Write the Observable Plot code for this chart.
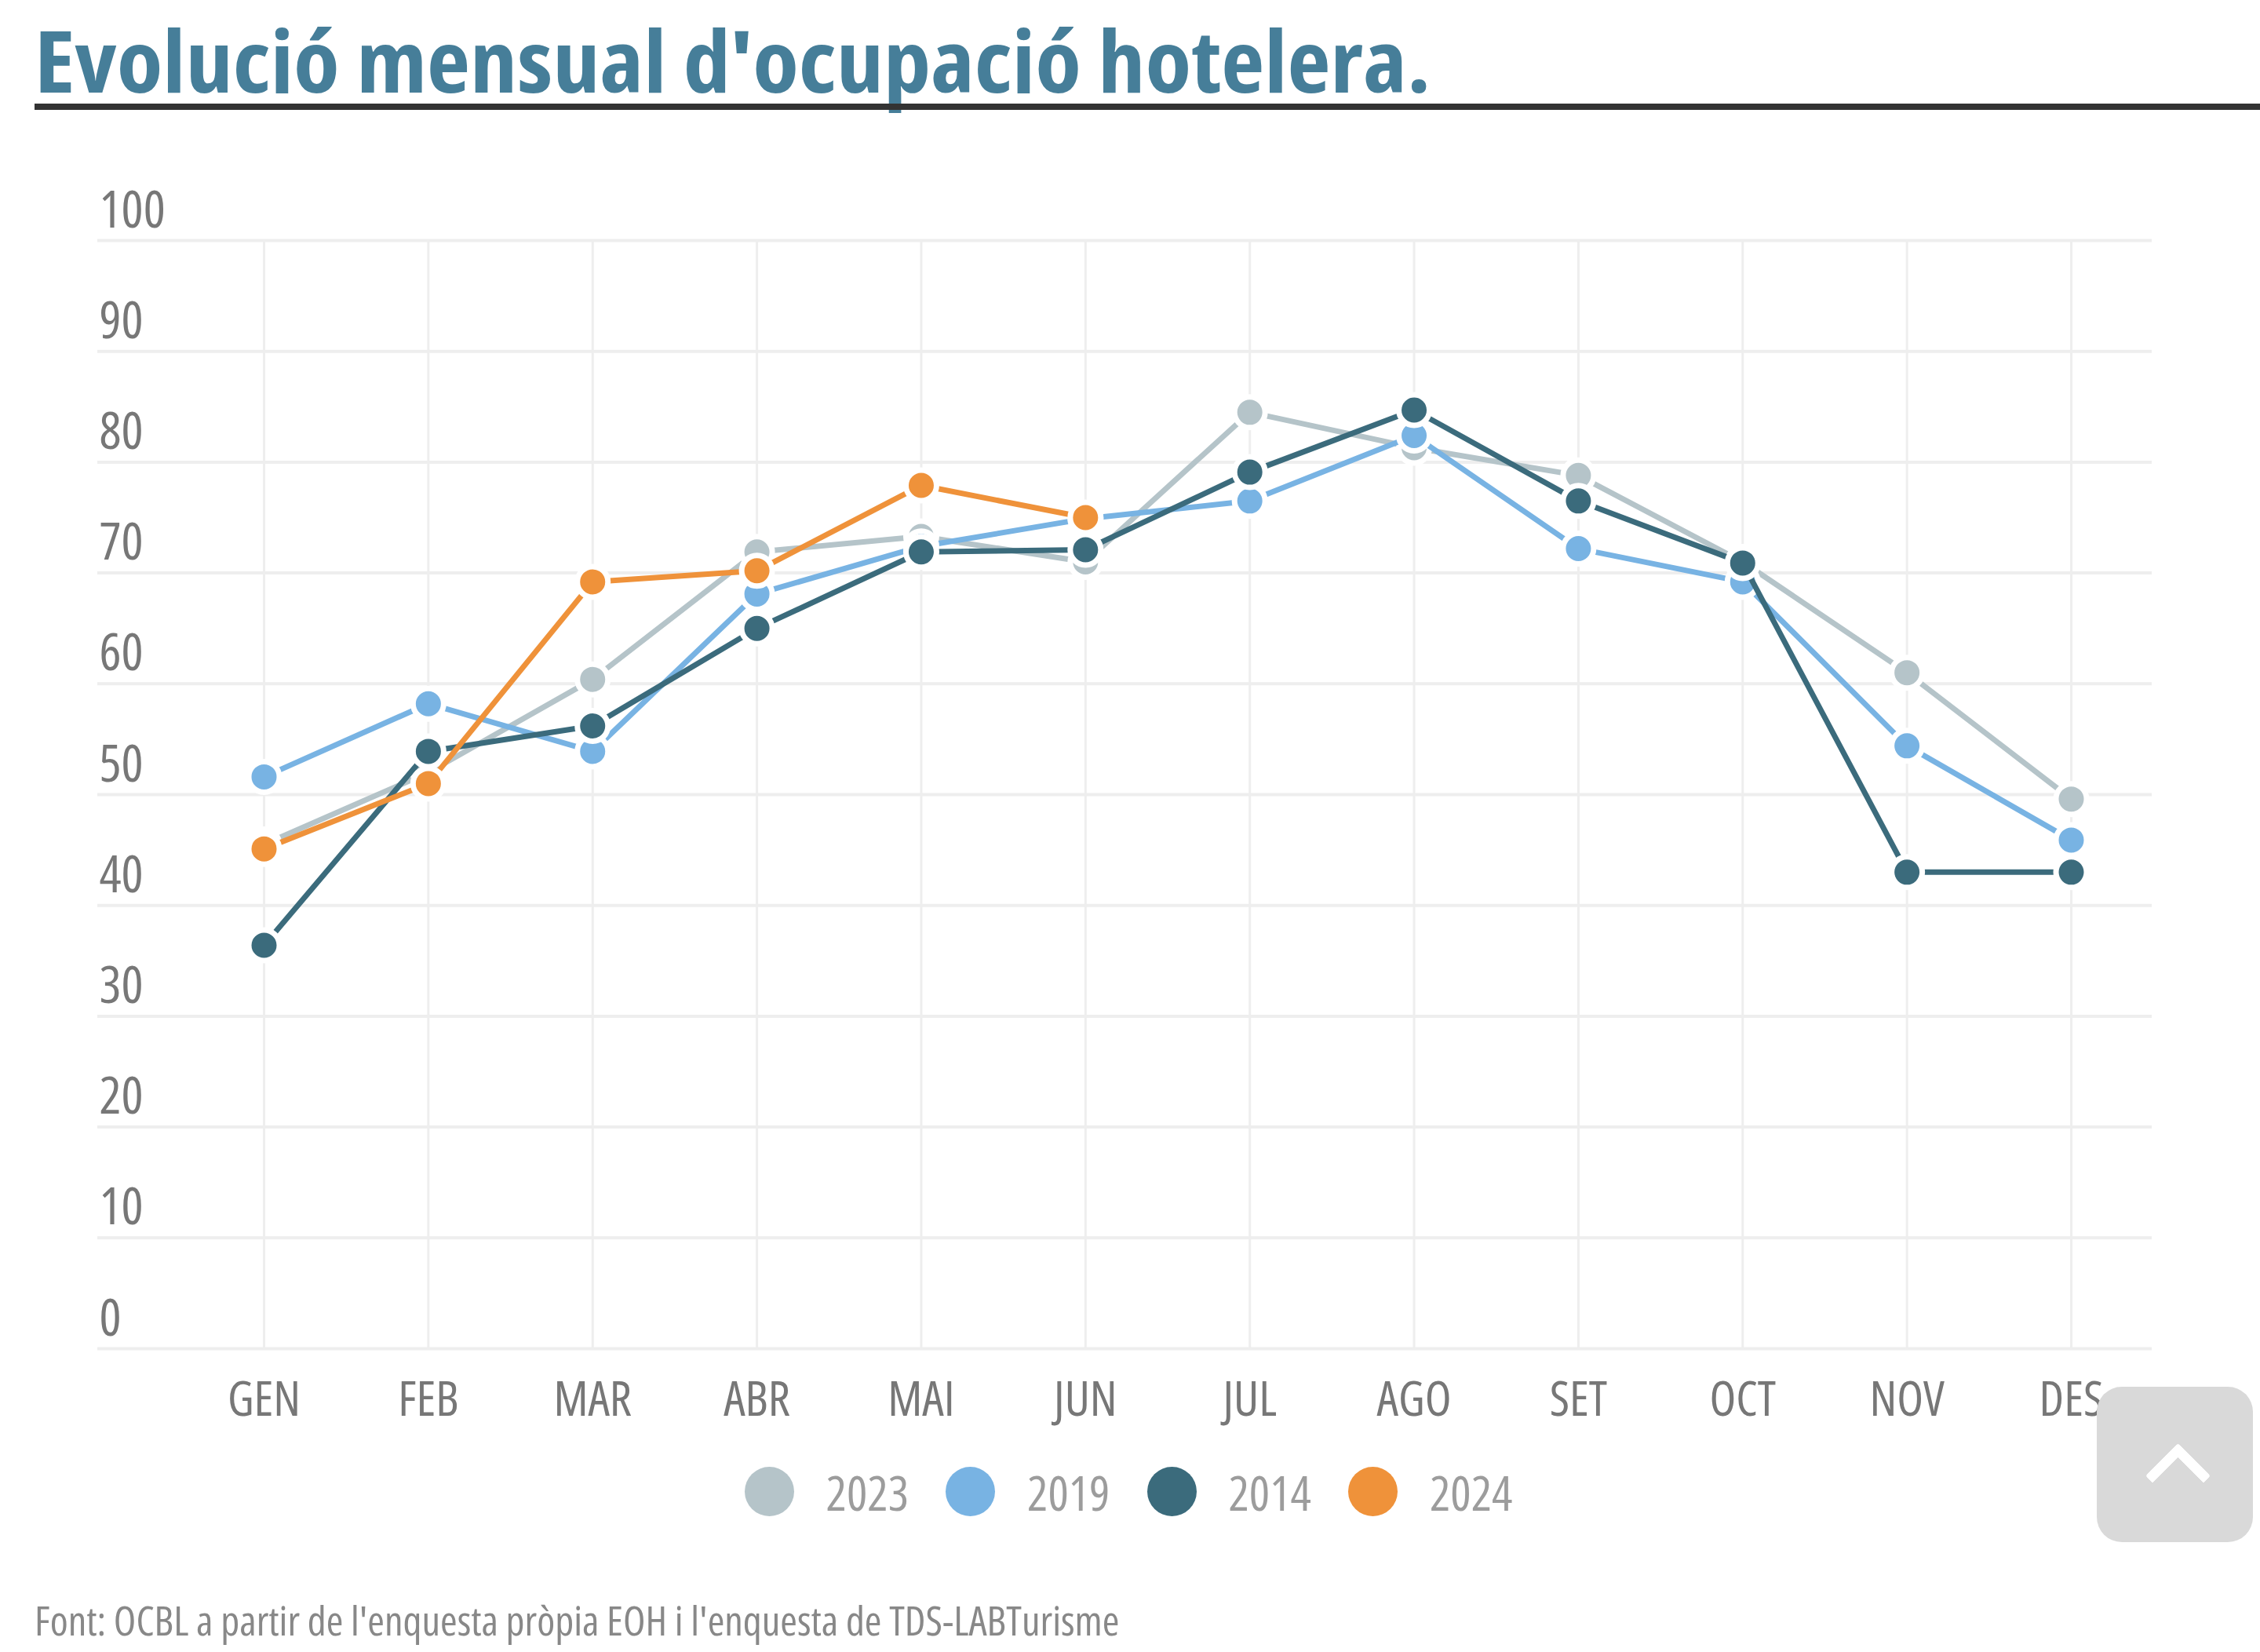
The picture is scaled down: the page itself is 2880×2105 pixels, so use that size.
<!DOCTYPE html>
<html>
<head>
<meta charset="utf-8">
<script src="https://cdn.jsdelivr.net/npm/d3@7"></script>
<script src="https://cdn.jsdelivr.net/npm/@observablehq/plot@0.6"></script>
<style>
  html, body { margin: 0; padding: 0; background: #fff; width: 2880px; height: 2105px; overflow: hidden; }
  body { position: relative; font-family: "Open Sans", sans-serif; font-stretch: 75%; }
  #title { position: absolute; left: 44px; top: 21px; font-size: 109px; line-height: 1; font-weight: bold; color: #467e99; white-space: nowrap; font-stretch: 75%; transform: scaleX(1.103); transform-origin: 0 0; }
  #rule { position: absolute; left: 44px; top: 132px; width: 2836px; height: 8px; background: #333; }
  #chart { position: absolute; left: 0; top: 200px; }
  #chart svg { font-family: "Open Sans", sans-serif; font-stretch: 75%; }
  #legend { position: absolute; left: 0; width: 2876px; top: 1869px; height: 63px; display: flex; justify-content: center; align-items: center; gap: 47px; }
  .item { display: flex; align-items: center; }
  .sw { width: 63px; height: 63px; border-radius: 50%; margin-right: 41px; }
  .lbl { font-size: 62px; line-height: 1; color: #9c9c9c; }
  #foot { position: absolute; left: 44px; top: 2039px; font-size: 51px; line-height: 1; color: #888; white-space: nowrap; font-stretch: 75%; transform: scaleX(1.025); transform-origin: 0 0; }
  #totop { position: absolute; left: 2672px; top: 1767px; width: 199px; height: 198px; background: #d9d9d9; border-radius: 32px; }
  #totop::after { content: ""; position: absolute; left: 74px; top: 84px; width: 46px; height: 46px; border-top: 13px solid #fff; border-left: 13px solid #fff; transform: rotate(45deg); border-radius: 4px; }
</style>
</head>
<body>
<div id="title">Evolució mensual d'ocupació hotelera.</div>
<div id="rule"></div>
<div id="chart"></div>
<div id="legend"></div>
<div id="foot">Font: OCBL a partir de l'enquesta pròpia EOH i l'enquesta de TDS-LABTurisme</div>
<div id="totop"></div>
<script>
const months = ["GEN", "FEB", "MAR", "ABR", "MAI", "JUN", "JUL", "AGO", "SET", "OCT", "NOV", "DES"];
const years = ["2023", "2019", "2014", "2024"];
const colors = ["#b5c4c9", "#78b3e3", "#3b6b7c", "#ef923a"];
const yTicks = [0, 10, 20, 30, 40, 50, 60, 70, 80, 90, 100];

const v2023 = [45.5, 52.0, 60.4, 71.9, 73.3, 71.0, 84.5, 81.3, 78.8, 71.0, 61.0, 49.6];
const v2019 = [51.6, 58.2, 53.9, 68.1, 72.4, 74.9, 76.5, 82.4, 72.2, 69.2, 54.4, 45.9];
const v2014 = [36.4, 53.9, 56.2, 65.0, 71.9, 72.1, 79.1, 84.7, 76.5, 70.9, 43.0, 43.0];
const v2024 = [45.1, 51.0, 69.2, 70.2, 77.9, 75.0];

const series = { "2023": v2023, "2019": v2019, "2014": v2014, "2024": v2024 };
const data = years.flatMap(y => series[y].map((v, i) => ({ year: y, i, month: months[i], value: v })));
const monthIdx = months.map((m, i) => i);

const seriesMarks = years.flatMap(y => {
  const d = data.filter(p => p.year === y);
  return [
    Plot.line(d, { x: "i", y: "value", stroke: "year", strokeWidth: 7 }),
    Plot.dot(d, { x: "i", y: "value", fill: "year", r: 19.5, stroke: "white", strokeWidth: 7 })
  ];
});

const chart = Plot.plot({
  width: 2880,
  height: 1660,
  marginLeft: 124,
  marginRight: 138,
  marginTop: 106,
  marginBottom: 142,
  style: { color: "#777", background: "transparent" },
  x: { type: "linear", domain: [-1.0126, 11.492] },
  y: { domain: [0, 100] },
  color: { domain: years, range: colors },
  marks: [
    Plot.gridY(yTicks, { stroke: "#eeeeee", strokeWidth: 4, strokeOpacity: 1 }),
    Plot.gridX(monthIdx, { stroke: "#eeeeee", strokeWidth: 3, strokeOpacity: 1 }),
    Plot.axisY(yTicks, { anchor: "left", tickSize: 0, tickPadding: 0, textAnchor: "start", dx: 2, dy: -38, fontSize: 66, label: null }),
    Plot.axisX(monthIdx, { anchor: "bottom", tickSize: 0, tickPadding: 41, tickFormat: i => months[i], fontSize: 62, label: null }),
    ...seriesMarks
  ]
});
document.getElementById("chart").appendChild(chart);

const legend = document.getElementById("legend");
years.forEach((y, k) => {
  const item = document.createElement("div");
  item.className = "item";
  const sw = document.createElement("div");
  sw.className = "sw";
  sw.style.background = colors[k];
  const lbl = document.createElement("span");
  lbl.className = "lbl";
  lbl.textContent = y;
  item.appendChild(sw);
  item.appendChild(lbl);
  legend.appendChild(item);
});
</script>
</body>
</html>
